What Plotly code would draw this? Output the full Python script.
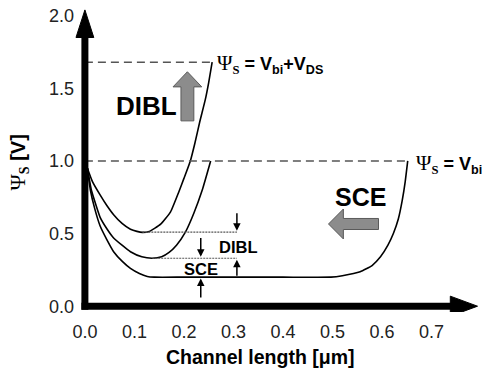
import plotly.graph_objects as go

# ---- data ----
long_x = [0.005, 0.011, 0.02, 0.031, 0.044, 0.058, 0.075, 0.092, 0.11, 0.126, 0.14, 0.2, 0.3, 0.4, 0.497,
          0.52, 0.556, 0.58, 0.597, 0.612, 0.623, 0.633, 0.641, 0.647, 0.652]
long_y = [0.95, 0.80, 0.67, 0.55, 0.46, 0.375, 0.31, 0.26, 0.225, 0.205, 0.2, 0.2, 0.2, 0.2, 0.2,
          0.21, 0.237, 0.28, 0.34, 0.42, 0.50, 0.60, 0.73, 0.86, 1.0]

short_x = [0.005, 0.013, 0.022, 0.031, 0.045, 0.058, 0.075, 0.092, 0.115, 0.136, 0.155, 0.17, 0.185,
           0.203, 0.22, 0.237, 0.254]
short_y = [0.95, 0.80, 0.70, 0.61, 0.53, 0.47, 0.42, 0.375, 0.34, 0.33, 0.34, 0.37, 0.42,
           0.51, 0.64, 0.80, 1.0]

dibl_x = [0.005, 0.015, 0.031, 0.045, 0.058, 0.075, 0.092, 0.105, 0.116, 0.13, 0.153, 0.173, 0.19,
          0.2, 0.213, 0.222, 0.232, 0.243, 0.25, 0.257]
dibl_y = [0.95, 0.86, 0.765, 0.69, 0.63, 0.57, 0.53, 0.515, 0.508, 0.515, 0.565, 0.65, 0.79,
          0.88, 1.0, 1.12, 1.27, 1.42, 1.54, 1.68]

x_ticks = [0, 0.1, 0.2, 0.3, 0.4, 0.5, 0.6, 0.7]
x_ticktext = ["0.0", "0.1", "0.2", "0.3", "0.4", "0.5", "0.6", "0.7"]
y_ticks = [0, 0.5, 1.0, 1.5, 2.0]
y_ticktext = ["0.0", "0.5", "1.0", "1.5", "2.0"]

vbi = 1.0
vbi_vds = 1.68
vbi_end = 0.648
vds_end = 0.255
min_dibl = 0.51
min_sce = 0.33
min_long = 0.2
dot_end = 0.307
sce_mark_x = 0.234

FONT = "Liberation Sans, Arial, sans-serif"
SERIF = "Liberation Serif, Times New Roman, serif"

fig = go.Figure()

for xs, ys in [(long_x, long_y), (short_x, short_y), (dibl_x, dibl_y)]:
    fig.add_trace(go.Scatter(x=xs, y=ys, mode="lines", line=dict(color="black", width=1.6, shape="spline", smoothing=0.45),
                             hoverinfo="skip", showlegend=False))

# dashed reference lines
fig.add_trace(go.Scatter(x=[0, vbi_end], y=[vbi, vbi], mode="lines",
                         line=dict(color="#555555", width=1.6, dash="8px,5px"), showlegend=False, hoverinfo="skip"))
fig.add_trace(go.Scatter(x=[0, vds_end], y=[vbi_vds, vbi_vds], mode="lines",
                         line=dict(color="#555555", width=1.6, dash="8px,5px"), showlegend=False, hoverinfo="skip"))
# dotted lines
fig.add_trace(go.Scatter(x=[0.116, dot_end], y=[min_dibl, min_dibl], mode="lines",
                         line=dict(color="#555555", width=1.2, dash="2px,1px"), showlegend=False, hoverinfo="skip"))
fig.add_trace(go.Scatter(x=[0.136, dot_end], y=[min_sce, min_sce], mode="lines",
                         line=dict(color="#555555", width=1.2, dash="2px,1px"), showlegend=False, hoverinfo="skip"))

shapes = []
# axes with arrowheads
AX_W = 7
shapes.append(dict(type="line", xref="x", yref="y", x0=0, x1=0, y0=-0.024, y1=1.86,
                   line=dict(color="black", width=AX_W)))
shapes.append(dict(type="line", xref="x", yref="y", x0=-0.007, x1=0.74, y0=0, y1=0,
                   line=dict(color="black", width=AX_W)))
ytip, ybase, yhw = 2.04, 1.85, 0.018
shapes.append(dict(type="path", xref="x", yref="y",
                   path=f"M {-yhw} {ybase} L 0 {ytip} L {yhw} {ybase} Z",
                   fillcolor="black", line=dict(color="black", width=1)))
xtip, xbase, xhw = 0.793, 0.738, 0.069
shapes.append(dict(type="path", xref="x", yref="y",
                   path=f"M {xbase} {-xhw} L {xtip} 0 L {xbase} {xhw} Z",
                   fillcolor="black", line=dict(color="black", width=1)))

# big grey arrows
cx, sh, hh, top, hb, bot = 0.207, 0.013, 0.029, 1.614, 1.51, 1.276
shapes.append(dict(type="path", xref="x", yref="y",
                   path=(f"M {cx-sh} {bot} L {cx-sh} {hb} L {cx-hh} {hb} L {cx} {top} "
                         f"L {cx+hh} {hb} L {cx+sh} {hb} L {cx+sh} {bot} Z"),
                   fillcolor="#8c8c8c", line=dict(color="#5a5a5a", width=1)))
cy, ssh, shh, tipx, hbx, endx = 0.566, 0.038, 0.103, 0.492, 0.522, 0.593
shapes.append(dict(type="path", xref="x", yref="y",
                   path=(f"M {endx} {cy-ssh} L {hbx} {cy-ssh} L {hbx} {cy-shh} L {tipx} {cy} "
                         f"L {hbx} {cy+shh} L {hbx} {cy+ssh} L {endx} {cy+ssh} Z"),
                   fillcolor="#8c8c8c", line=dict(color="#5a5a5a", width=1)))

ann = []
def arrow(x, tail, tip):
    ann.append(dict(x=x, y=tip, ax=x, ay=tail, xref="x", yref="y", axref="x", ayref="y",
                    text="", showarrow=True, arrowhead=2, arrowsize=1, arrowwidth=1.5, arrowcolor="black"))

arrow(dot_end, 0.65, min_dibl + 0.01)
arrow(dot_end, min_long, min_sce - 0.01)
arrow(sce_mark_x, 0.48, min_sce + 0.01)
arrow(sce_mark_x, 0.05, min_long - 0.01)

def text(x, y, t, size, xanchor="center", bold=True, family=FONT, angle=0, xref="x", yref="y"):
    ann.append(dict(x=x, y=y, xref=xref, yref=yref, text=(f"<b>{t}</b>" if bold else t), showarrow=False,
                    xanchor=xanchor, yanchor="middle", textangle=angle,
                    font=dict(family=family, size=size, color="black")))

text(0.125, 1.38, "DIBL", 26)
text(0.557, 0.752, "SCE", 25)
text(0.31, 0.41, "DIBL", 16.5)
text(0.234, 0.255, "SCE", 16.5)

psi = (f'<span style="font-family:{SERIF};font-size:21px">Ψ</span>'
       f'<sub><span style="font-family:{SERIF}"><b>S</b></span></sub>')
text(0.262, 1.67, psi + "<b> = V<sub>bi</sub>+V<sub>DS</sub></b>", 18, xanchor="left", bold=False)
text(0.664, 0.98, psi + "<b> = V<sub>bi</sub></b>", 18, xanchor="left", bold=False)

# axis titles (paper coordinates, outside plot area)
text(0.4567, -0.148, "Channel length [μm]", 19.5, xref="paper", yref="paper")
psi_y = (f'<span style="font-family:{SERIF};font-size:22px">Ψ</span>'
         f'<sub><span style="font-family:{SERIF}"><b>S</b></span></sub>')
text(-0.139, 0.489, psi_y + "<b> [V]</b>", 20, bold=False, angle=-90, xref="paper", yref="paper")

fig.update_layout(
    width=489, height=374,
    margin=dict(l=74.6, r=8.4, t=7.3, b=62.2),
    plot_bgcolor="white", paper_bgcolor="white",
    shapes=shapes, annotations=ann, showlegend=False,
    xaxis=dict(range=[-0.02, 0.8], tickvals=x_ticks, ticktext=x_ticktext, showgrid=False, zeroline=False,
               showline=False, ticks="outside", ticklen=3, tickcolor="rgba(0,0,0,0)",
               tickfont=dict(family=FONT, size=18, color="#222222"), fixedrange=True),
    yaxis=dict(range=[-0.04, 2.06], tickvals=y_ticks, ticktext=y_ticktext, showgrid=False, zeroline=False,
               showline=False, ticks="", tickfont=dict(family=FONT, size=18, color="#222222"), fixedrange=True),
)

fig.write_html("out.html", config={"displayModeBar": False})
